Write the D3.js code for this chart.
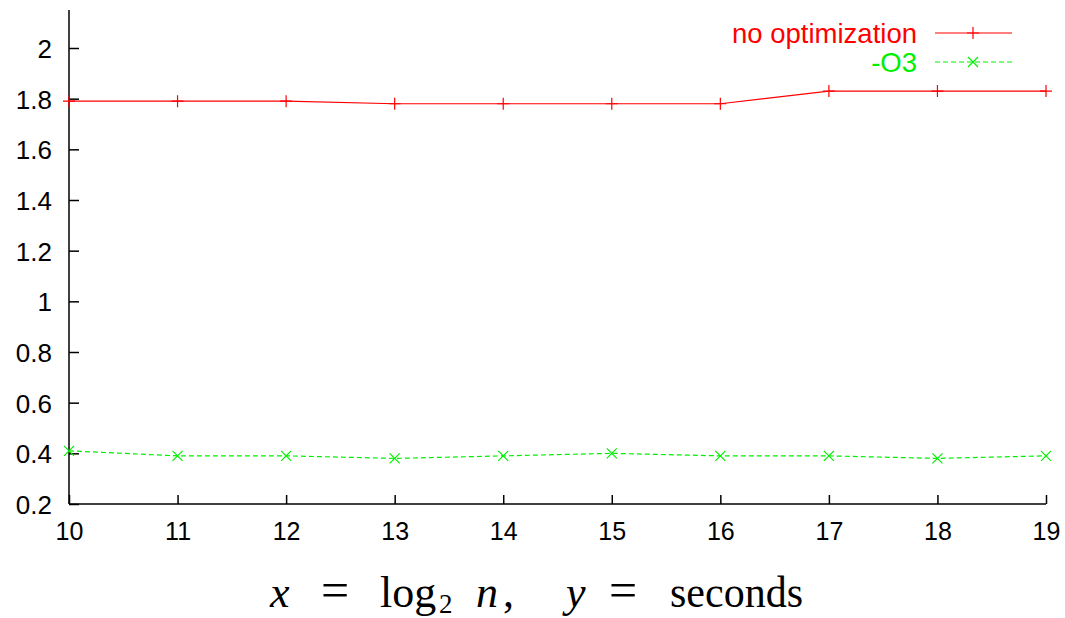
<!DOCTYPE html>
<html>
<head>
<meta charset="utf-8">
<script src="https://cdn.jsdelivr.net/npm/d3@7"></script>
<style>
  body { margin: 0; background: #fff; }
  svg { display: block; }
</style>
</head>
<body>
<svg id="chart"></svg>
<script>
const xValues = [10, 11, 12, 13, 14, 15, 16, 17, 18, 19];
const noOpt = [1.79, 1.79, 1.79, 1.78, 1.78, 1.78, 1.78, 1.83, 1.83, 1.83];
const o3 = [0.41, 0.39, 0.39, 0.38, 0.39, 0.40, 0.39, 0.39, 0.38, 0.39];
const yTicks = [0.2, 0.4, 0.6, 0.8, 1, 1.2, 1.4, 1.6, 1.8, 2];
const seriesNames = ['no optimization', '-O3'];

const width = 1065, height = 618;
const plotLeft = 69, plotRight = 1046, plotTop = 10, plotBottom = 504;
const sans = '"Liberation Sans", Arial, sans-serif';
const serif = '"Liberation Serif", "Times New Roman", serif';

const svg = d3.select('#chart').attr('width', width).attr('height', height);

const x = d3.scaleLinear().domain([10, 19]).range([plotLeft, plotRight]);
const y = d3.scaleLinear().domain([0.2, 2.15]).range([plotBottom, plotTop]);

// y axis, ticks pointing inward
const yAxis = svg.append('g')
    .attr('transform', `translate(${plotLeft},0)`)
    .call(d3.axisRight(y).tickValues(yTicks).tickSize(10).tickFormat(d3.format('')));
yAxis.attr('font-family', sans).attr('font-size', 26);
yAxis.select('.domain').remove();
yAxis.selectAll('.tick line').attr('stroke', '#000').attr('stroke-width', 1.5);
yAxis.selectAll('.tick text').attr('x', -17).attr('text-anchor', 'end').attr('dy', '0.36em').attr('fill', '#000');

svg.append('line')
    .attr('x1', plotLeft).attr('x2', plotLeft).attr('y1', plotTop).attr('y2', plotBottom)
    .attr('stroke', '#000').attr('stroke-width', 1.5);

// x axis, ticks pointing up
const xAxis = svg.append('g')
    .attr('transform', `translate(0,${plotBottom})`)
    .call(d3.axisTop(x).tickValues(xValues).tickSize(9).tickFormat(d3.format('d')));
xAxis.attr('font-family', sans).attr('font-size', 25);
xAxis.select('.domain').remove();
xAxis.selectAll('.tick line').attr('stroke', '#000').attr('stroke-width', 1.5);
xAxis.selectAll('.tick text').attr('y', 36).attr('dy', 0).attr('fill', '#000');

svg.append('line')
    .attr('x1', plotLeft).attr('x2', plotRight).attr('y1', plotBottom).attr('y2', plotBottom)
    .attr('stroke', '#000').attr('stroke-width', 1.5);

const line = d3.line().x((d, i) => x(xValues[i])).y(d => y(d));

function plus(g, cx, cy, color) {
    g.append('path')
        .attr('d', `M${cx - 6},${cy}H${cx + 6}M${cx},${cy - 6}V${cy + 6}`)
        .attr('stroke', color).attr('stroke-width', 1.2).attr('fill', 'none');
}
function cross(g, cx, cy, color) {
    g.append('path')
        .attr('d', `M${cx - 5},${cy - 5}L${cx + 5},${cy + 5}M${cx - 5},${cy + 5}L${cx + 5},${cy - 5}`)
        .attr('stroke', color).attr('stroke-width', 1.2).attr('fill', 'none');
}

const series = [
    { name: seriesNames[0], values: noOpt, color: '#ff0000', dash: null, mark: plus },
    { name: seriesNames[1], values: o3, color: '#00f000', dash: '5,3', mark: cross }
];

series.forEach((s, k) => {
    const g = svg.append('g');
    g.append('path')
        .datum(s.values)
        .attr('d', line)
        .attr('fill', 'none')
        .attr('stroke', s.color)
        .attr('stroke-width', 1.2)
        .attr('stroke-dasharray', s.dash);
    s.values.forEach((v, i) => s.mark(g, x(xValues[i]), y(v), s.color));

    // legend
    const ly = 33 + k * 29;
    const lg = svg.append('g');
    lg.append('text')
        .attr('x', 917).attr('y', ly + 10)
        .attr('text-anchor', 'end')
        .attr('font-family', sans)
        .attr('font-size', 27.5)
        .attr('fill', s.color)
        .text(s.name);
    lg.append('line')
        .attr('x1', 935).attr('x2', 1012).attr('y1', ly).attr('y2', ly)
        .attr('stroke', s.color).attr('stroke-width', 1.2)
        .attr('stroke-dasharray', s.dash);
    s.mark(lg, 973, ly, s.color);
});

// formula caption, pieces placed like the typeset original
const capBase = 607;
const capPieces = [
    { t: 'x', x: 270, italic: true, size: 44 },
    { t: '=', x: 321, size: 50 },
    { t: 'log', x: 380, size: 44 },
    { t: '2', x: 439, size: 27, dy: 6 },
    { t: 'n', x: 476, italic: true, size: 44 },
    { t: ',', x: 503, size: 44 },
    { t: 'y', x: 566, italic: true, size: 44 },
    { t: '=', x: 609, size: 50 },
    { t: 'seconds', x: 670, size: 44, len: 133 }
];
const cap = svg.append('g')
    .attr('font-family', serif)
    .attr('fill', '#000');
capPieces.forEach(p => {
    const t = cap.append('text')
        .attr('x', p.x)
        .attr('y', capBase + (p.dy || 0))
        .attr('font-size', p.size)
        .attr('font-style', p.italic ? 'italic' : 'normal')
        .text(p.t);
    if (p.len) t.attr('textLength', p.len).attr('lengthAdjust', 'spacingAndGlyphs');
});
</script>
</body>
</html>
